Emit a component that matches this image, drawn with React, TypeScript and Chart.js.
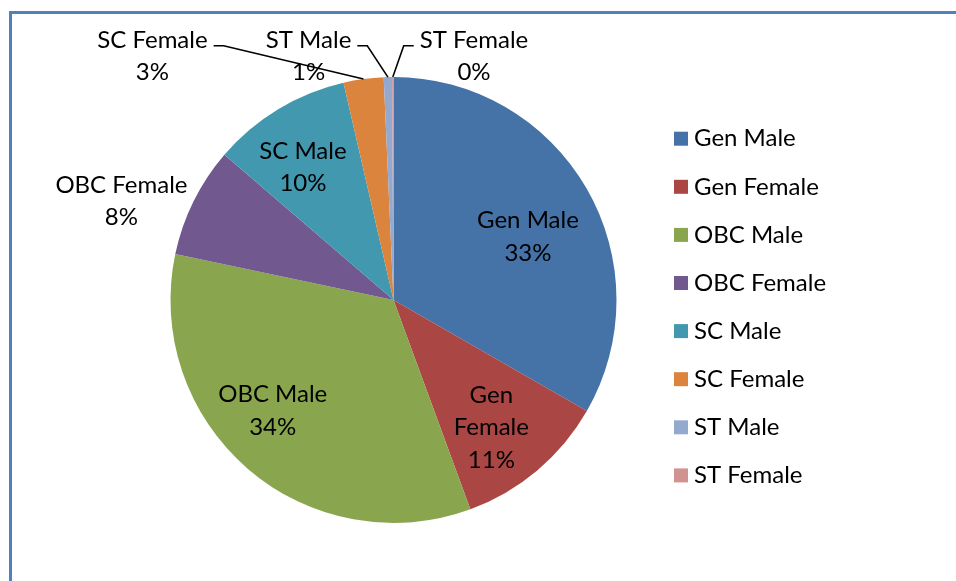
import React, { useEffect, useRef } from "react";
import { Chart, registerables } from "chart.js";

Chart.register(...registerables);

// ---- data ----
const categories = [
  "Gen Male",
  "Gen Female",
  "OBC Male",
  "OBC Female",
  "SC Male",
  "SC Female",
  "ST Male",
  "ST Female",
];
const shares = [33.3, 11.1, 33.9, 8.0, 10.1, 2.9, 0.6, 0.1];
const sliceColors = [
  "#4572A7",
  "#AA4643",
  "#89A54E",
  "#71588F",
  "#4198AF",
  "#DB843D",
  "#93A9CF",
  "#D19392",
];

// ---- label layout (text placement only) ----
type Placement =
  | { kind: "in"; r: number; da: number; wrap?: boolean }
  | { kind: "out"; ox: number; oy: number; leader?: "left" | "right" };

const placements: Placement[] = [
  { kind: "in", r: 0.666, da: 4.9 },
  { kind: "in", r: 0.72, da: 2.6, wrap: true },
  { kind: "in", r: 0.735, da: 6.6 },
  { kind: "out", ox: -1.22, oy: -0.442 },
  { kind: "in", r: 0.72, da: -3.2 },
  { kind: "out", ox: -1.081, oy: -1.094, leader: "right" },
  { kind: "out", ox: -0.381, oy: -1.094, leader: "right" },
  { kind: "out", ox: 0.361, oy: -1.094, leader: "left" },
];

const FONT_FAMILY = "Lato, 'Liberation Sans', sans-serif";
const FONT_SIZE = 24;
const LINE_H = 32.5;

const LEGEND_X = 674;
const LEGEND_Y0 = 138.7;
const LEGEND_STEP = 48.1;
const LEGEND_BOX = 14;
const LEGEND_GAP = 6;

const labelPlugin = {
  id: "sliceLabels",
  afterDatasetsDraw(chart: any) {
    const ctx: CanvasRenderingContext2D = chart.ctx;
    const meta = chart.getDatasetMeta(0);
    const data: number[] = chart.data.datasets[0].data;
    const total = data.reduce((a, b) => a + b, 0);
    ctx.save();
    ctx.font = `${FONT_SIZE}px ${FONT_FAMILY}`;
    ctx.fillStyle = "#000";
    ctx.strokeStyle = "#000";
    ctx.lineWidth = 1.6;
    ctx.textAlign = "center";
    ctx.textBaseline = "middle";
    meta.data.forEach((arc: any, i: number) => {
      const p = arc.getProps(["x", "y", "startAngle", "endAngle", "outerRadius"], true);
      const R = p.outerRadius;
      const mid = (p.startAngle + p.endAngle) / 2;
      const place = placements[i];
      const name = chart.data.labels[i] as string;
      const pct = Math.round((data[i] / total) * 100) + "%";
      const nameLines = place.kind === "in" && place.wrap ? name.split(" ") : [name];
      const lines = [...nameLines, pct];
      let cx: number, cy: number;
      if (place.kind === "in") {
        const a = mid + (place.da * Math.PI) / 180;
        cx = p.x + Math.cos(a) * place.r * R;
        cy = p.y + Math.sin(a) * place.r * R;
      } else {
        cx = p.x + place.ox * R;
        cy = p.y + place.oy * R;
      }
      const y0 = cy - ((lines.length - 1) * LINE_H) / 2;
      lines.forEach((t, k) => ctx.fillText(t, cx, y0 + k * LINE_H));
      if (place.kind === "out" && place.leader) {
        const w = ctx.measureText(lines[0]).width;
        const dir = place.leader === "right" ? 1 : -1;
        const sx = cx + dir * (w / 2 + 6);
        const sy = y0 + 6;
        ctx.beginPath();
        ctx.moveTo(sx, sy);
        ctx.lineTo(sx + dir * 10, sy);
        ctx.lineTo(p.x + Math.cos(mid) * R, p.y + Math.sin(mid) * R);
        ctx.stroke();
      }
    });

    // legend
    ctx.textAlign = "left";
    const colors: string[] = chart.data.datasets[0].backgroundColor;
    (chart.data.labels as string[]).forEach((lab, i) => {
      const yc = LEGEND_Y0 + i * LEGEND_STEP;
      ctx.fillStyle = colors[i];
      ctx.fillRect(LEGEND_X, yc - LEGEND_BOX / 2, LEGEND_BOX, LEGEND_BOX);
      ctx.fillStyle = "#000";
      ctx.fillText(lab, LEGEND_X + LEGEND_BOX + LEGEND_GAP, yc);
    });
    ctx.restore();
  },
};

export default function App() {
  const ref = useRef<HTMLCanvasElement | null>(null);
  useEffect(() => {
    if (!ref.current) return;
    const chart = new Chart(ref.current, {
      type: "pie",
      data: {
        labels: categories,
        datasets: [
          {
            data: shares,
            backgroundColor: sliceColors,
            borderWidth: 0,
          },
        ],
      },
      options: {
        animation: false,
        responsive: false,
        layout: { padding: { top: 77, bottom: 58, left: 170.5, right: 339.5 } },
        plugins: {
          legend: { display: false },
          tooltip: { enabled: false },
        },
      },
      plugins: [labelPlugin],
    });
    return () => chart.destroy();
  }, []);

  return (
    <div
      style={{
        position: "fixed",
        left: 0,
        top: 0,
        width: 956,
        height: 581,
        overflow: "hidden",
        background: "#fff",
      }}
    >
      <div
        style={{
          position: "absolute",
          left: 9,
          top: 11,
          width: 2000,
          height: 2000,
          border: "3px solid #4F81BD",
          boxSizing: "border-box",
        }}
      />
      <canvas
        ref={ref}
        width={956}
        height={581}
        style={{ position: "absolute", left: 0, top: 0 }}
      />
    </div>
  );
}
